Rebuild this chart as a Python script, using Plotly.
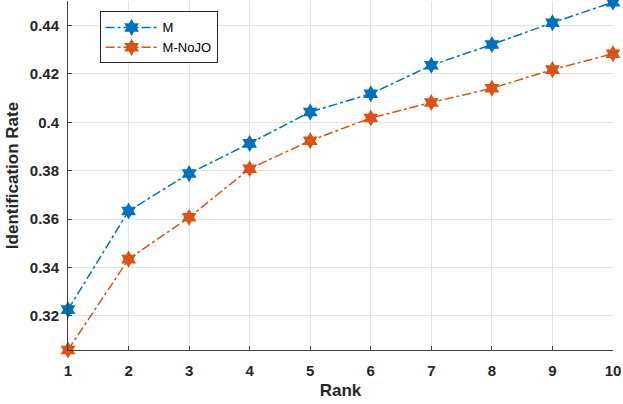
import plotly.graph_objects as go

rank = [1, 2, 3, 4, 5, 6, 7, 8, 9, 10]
m_vals = [0.3225, 0.3633, 0.3788, 0.3913, 0.4043, 0.4118, 0.4236, 0.4322, 0.4412, 0.4497]
nojo_vals = [0.3058, 0.3434, 0.3607, 0.3808, 0.3924, 0.4018, 0.4082, 0.4141, 0.4218, 0.4284]
y_ticks = [0.32, 0.34, 0.36, 0.38, 0.40, 0.42, 0.44]
y_labels = ["0.32", "0.34", "0.36", "0.38", "0.4", "0.42", "0.44"]

fig = go.Figure()
fig.add_trace(go.Scatter(x=rank, y=m_vals, name="M", mode="lines+markers",
                         line=dict(color="#0072BD", width=1.5, dash="dashdot"),
                         marker=dict(symbol="hexagram", size=13, color="#0072BD"),
                         cliponaxis=False))
fig.add_trace(go.Scatter(x=rank, y=nojo_vals, name="M-NoJO", mode="lines+markers",
                         line=dict(color="#D95319", width=1.5, dash="dashdot"),
                         marker=dict(symbol="hexagram", size=13, color="#D95319"),
                         cliponaxis=False))

axis_common = dict(showgrid=True, gridcolor="#e3e3e3", gridwidth=1, zeroline=False,
                   showline=True, linecolor="#404040", linewidth=1,
                   ticks="inside", ticklen=4, tickcolor="#404040",
                   tickfont=dict(family="Liberation Sans", size=15, color="#262626"))

fig.update_xaxes(range=[1, 10], tickvals=rank, ticktext=[f"<b>{r}</b>" for r in rank],
                 ticklabelstandoff=7,
                 title=dict(text="<b>Rank</b>", font=dict(family="Liberation Sans", size=17, color="#262626"), standoff=6),
                 **axis_common)
fig.update_yaxes(range=[0.3058, 0.4502], tickvals=y_ticks, ticktext=[f"<b>{t}</b>" for t in y_labels],
                 ticklabelstandoff=5,
                 title=dict(text="<b>Identification Rate</b>", font=dict(family="Liberation Sans", size=17, color="#262626"), standoff=6),
                 **axis_common)

fig.update_layout(width=623, height=404, plot_bgcolor="white", paper_bgcolor="white",
                  margin=dict(l=68, r=10, t=1, b=54),
                  legend=dict(x=0.058, y=0.97, xanchor="left", yanchor="top",
                              bgcolor="white", bordercolor="#262626", borderwidth=1,
                              font=dict(family="Liberation Sans", size=13, color="#000000"),
                              tracegroupgap=0, itemwidth=52))
fig.write_html("out.html", config={"displayModeBar": False},
               post_script="document.body.style.margin='0';")
